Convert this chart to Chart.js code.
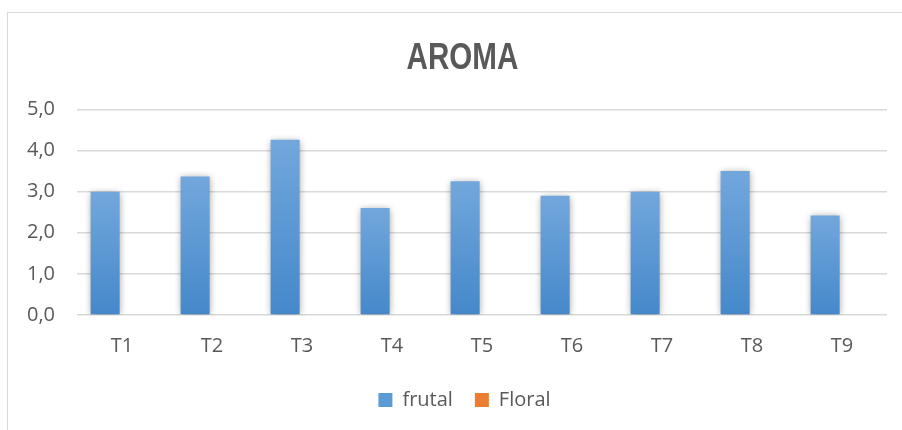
<!DOCTYPE html>
<html>
<head>
<meta charset="utf-8">
<script src="https://cdn.jsdelivr.net/npm/chart.js@4/dist/chart.umd.min.js"></script>
<style>
html,body{margin:0;padding:0;background:#fff;}
#wrap{width:902px;height:430px;position:relative;}
</style>
</head>
<body>
<div id="wrap"><canvas id="c" width="902" height="430"></canvas></div>
<script>
const categories = ['T1','T2','T3','T4','T5','T6','T7','T8','T9'];
const frutal = [3.0, 3.37, 4.26, 2.6, 3.25, 2.9, 3.0, 3.5, 2.42];
const floral = [0, 0, 0, 0, 0, 0, 0, 0, 0];
const yTickLabels = ['0,0','1,0','2,0','3,0','4,0','5,0'];
const chartTitle = 'AROMA';
const seriesNames = ['frutal', 'Floral'];

const TEXT = '#595959';
const FONT = "'Open Sans', 'Liberation Sans', sans-serif";

function barGradient(topC, botC, flat) {
  return function(context) {
    const chart = context.chart;
    const area = chart.chartArea;
    if (!area || context.type !== 'data') return flat;
    const y = chart.scales.y;
    const top = y.getPixelForValue(context.raw);
    const bottom = y.getPixelForValue(0);
    if (Math.abs(bottom - top) < 1) return flat;
    const g = chart.ctx.createLinearGradient(0, top, 0, bottom);
    g.addColorStop(0, topC);
    g.addColorStop(1, botC);
    return g;
  };
}

function shiftBox(chart, box, dx, sx) {
  if (!box || box._shifted) return;
  const orig = box.draw.bind(box);
  box.draw = function() {
    const c = chart.ctx;
    const cx = (box.left + box.right) / 2;
    c.save();
    c.translate(cx + dx, 0);
    c.scale(sx, 1);
    c.translate(-cx, 0);
    orig();
    c.restore();
  };
  box._shifted = true;
}

const framePlugin = {
  id: 'frame',
  beforeDraw(chart) {
    const ctx = chart.ctx;
    ctx.save();
    ctx.fillStyle = '#ffffff';
    ctx.fillRect(0, 0, chart.width, chart.height);
    ctx.strokeStyle = '#d9d9d9';
    ctx.lineWidth = 1;
    ctx.strokeRect(7.5, 12.5, 1000, 1000);
    ctx.restore();
    // title: narrow bold look, centred on the chart frame; legend centred on the frame too
    shiftBox(chart, chart.titleBlock, 19, 0.8);
    shiftBox(chart, chart.legend, 21, 1);
  },
  beforeDatasetDraw(chart) {
    const ctx = chart.ctx;
    ctx.save();
    ctx.shadowColor = 'rgba(0,0,0,0.4)';
    ctx.shadowBlur = 7;
    ctx.shadowOffsetX = 0;
    ctx.shadowOffsetY = 1;
  },
  afterDatasetDraw(chart) {
    chart.ctx.restore();
  }
};

new Chart(document.getElementById('c'), {
  type: 'bar',
  data: {
    labels: categories,
    datasets: [
      {
        label: seriesNames[0],
        data: frutal,
        backgroundColor: barGradient('#72a7dc', '#4588ca', '#5b9bd5'),
        borderWidth: 0,
        categoryPercentage: 0.75,
        barPercentage: 0.86
      },
      {
        label: seriesNames[1],
        data: floral,
        backgroundColor: barGradient('#f4985c', '#e8711f', '#ed7d31'),
        borderWidth: 0,
        categoryPercentage: 0.75,
        barPercentage: 0.86
      }
    ]
  },
  options: {
    responsive: false,
    animation: false,
    devicePixelRatio: 1,
    layout: { padding: { top: 0, left: 0, right: 15, bottom: 10 } },
    plugins: {
      title: {
        display: true,
        text: chartTitle,
        color: TEXT,
        font: { family: "'Liberation Sans', Arial, sans-serif", size: 37, weight: 'bold', lineHeight: 1.2 },
        padding: { top: 37, bottom: 28 }
      },
      legend: {
        position: 'bottom',
        labels: {
          color: TEXT,
          font: { family: FONT, size: 20 },
          boxWidth: 14,
          boxHeight: 14,
          padding: 22,
          generateLabels(chart) {
            const fills = ['#5b9bd5', '#ed7d31'];
            return chart.data.datasets.map((ds, i) => ({
              text: ds.label,
              fillStyle: fills[i],
              strokeStyle: fills[i],
              lineWidth: 0,
              fontColor: TEXT,
              hidden: false,
              datasetIndex: i
            }));
          }
        }
      },
      tooltip: { enabled: false }
    },
    scales: {
      x: {
        grid: { display: false, drawTicks: false },
        border: { display: false },
        ticks: { color: TEXT, font: { family: FONT, size: 20 }, padding: 19, maxRotation: 0 },
        afterFit(scale) { scale.height = 53; }
      },
      y: {
        min: 0,
        max: 5,
        grid: { color: '#d9d9d9', lineWidth: 1.5, drawTicks: false },
        border: { display: false },
        ticks: {
          stepSize: 1,
          color: TEXT,
          font: { family: FONT, size: 20 },
          padding: 22,
          callback(value, index) { return yTickLabels[index]; }
        },
        afterFit(scale) { scale.width = 77; }
      }
    }
  },
  plugins: [framePlugin]
});
</script>
</body>
</html>
